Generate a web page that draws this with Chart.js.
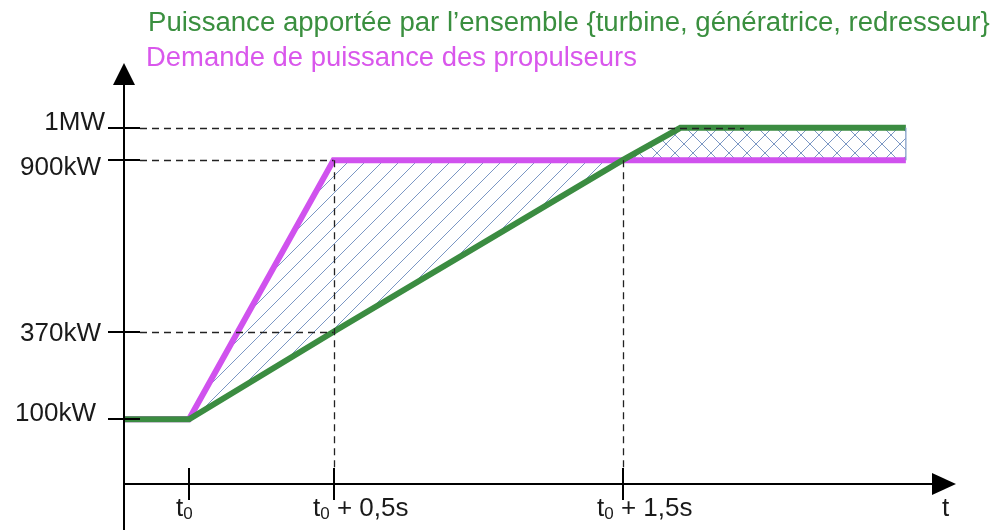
<!DOCTYPE html>
<html>
<head>
<meta charset="utf-8">
<script src="https://cdn.jsdelivr.net/npm/chart.js@4"></script>
<style>
  html, body { margin: 0; padding: 0; background: #fff; }
  #wrap { width: 997px; height: 530px; }
</style>
</head>
<body>
<div id="wrap"><canvas id="powerChart" width="997" height="530"></canvas></div>
<script>
// time in seconds relative to t0, power in kW
const timePoints = [-0.225, 0, 0.5, 1.5, 1.7, 2.48];
const supplyPower = [100, 100, 370, 900, 1000, 1000];   // turbine + generatrice + redresseur
const demandPower = [100, 100, 900, 900, 900, 900];     // propulseurs

const yTickValues = [100, 370, 900, 1000];
const yTickLabels = ["100kW", "370kW", "900kW", "1MW"];
const xTickValues = [0, 0.5, 1.5];
const xTickSuffix = ["", " + 0,5s", " + 1,5s"];

// dashed guides: [power, time end] and [time, power top]
const hGuides = [[1000, 1.92], [900, 0.5], [370, 0.5]];
const vGuides = [[0.5, 900], [1.5, 900]];

const titleSupply = "Puissance apportée par l\u2019ensemble {turbine, génératrice, redresseur}";
const titleDemand = "Demande de puissance des propulseurs";

const GREEN = "#3b8c41";
const MAGENTA = "#d052ee";
const HATCH = "#7b97c4";
const FONT = "'Liberation Sans', Arial, sans-serif";

function makePattern(size, cross) {
  const c = document.createElement("canvas");
  c.width = size; c.height = size;
  const g = c.getContext("2d");
  g.strokeStyle = HATCH;
  g.lineWidth = 1;
  g.beginPath();
  // "/" lines
  g.moveTo(-1, size + 1); g.lineTo(size + 1, -1);
  g.moveTo(-1, 1); g.lineTo(1, -1);
  g.moveTo(size - 1, size + 1); g.lineTo(size + 1, size - 1);
  if (cross) {
    // "\" lines
    g.moveTo(-1, -1); g.lineTo(size + 1, size + 1);
    g.moveTo(size - 1, -1); g.lineTo(size + 1, 1);
    g.moveTo(-1, size - 1); g.lineTo(1, size + 1);
  }
  g.stroke();
  return g.createPattern(c, "repeat");
}

const diagPattern = makePattern(17, false);
const crossPattern = makePattern(18, true);

const overlay = {
  id: "overlay",
  afterDatasetsDraw(chart) {
    const { ctx, scales: { x, y } } = chart;
    const x0 = x.getPixelForValue(x.min);
    const y0 = y.getPixelForValue(y.min);
    ctx.save();

    // closing edge of the crosshatched band
    const last = timePoints.length - 1;
    ctx.strokeStyle = HATCH;
    ctx.lineWidth = 1.2;
    ctx.beginPath();
    ctx.moveTo(x.getPixelForValue(timePoints[last]), y.getPixelForValue(supplyPower[last]));
    ctx.lineTo(x.getPixelForValue(timePoints[last]), y.getPixelForValue(demandPower[last]));
    ctx.stroke();

    // dashed guides
    ctx.strokeStyle = "#222";
    ctx.lineWidth = 1.3;
    ctx.setLineDash([7, 5]);
    hGuides.forEach(([p, t]) => {
      const py = Math.round(y.getPixelForValue(p)) + 0.5;
      ctx.beginPath();
      ctx.moveTo(x0 + 16, py);
      ctx.lineTo(x.getPixelForValue(t), py);
      ctx.stroke();
    });
    vGuides.forEach(([t, p]) => {
      const px = Math.round(x.getPixelForValue(t)) + 0.5;
      ctx.beginPath();
      ctx.moveTo(px, y.getPixelForValue(p));
      ctx.lineTo(px, y0 - 16);
      ctx.stroke();
    });
    ctx.setLineDash([]);

    // axes
    ctx.strokeStyle = "#000";
    ctx.fillStyle = "#000";
    ctx.lineWidth = 2;
    ctx.beginPath();
    ctx.moveTo(x0, 80);
    ctx.lineTo(x0, 530);
    ctx.moveTo(x0, y0);
    ctx.lineTo(935, y0);
    ctx.stroke();
    // arrow heads
    ctx.beginPath();
    ctx.moveTo(x0, 63); ctx.lineTo(x0 - 11, 85); ctx.lineTo(x0 + 11, 85); ctx.closePath();
    ctx.fill();
    ctx.beginPath();
    ctx.moveTo(956, y0); ctx.lineTo(932, y0 - 11); ctx.lineTo(932, y0 + 11); ctx.closePath();
    ctx.fill();

    // ticks
    ctx.lineWidth = 2;
    yTickValues.forEach(v => {
      const py = Math.round(y.getPixelForValue(v));
      ctx.beginPath();
      ctx.moveTo(x0 - 16, py); ctx.lineTo(x0 + 16, py);
      ctx.stroke();
    });
    xTickValues.forEach(v => {
      const px = Math.round(x.getPixelForValue(v));
      ctx.beginPath();
      ctx.moveTo(px, y0 - 16); ctx.lineTo(px, y0 + 16);
      ctx.stroke();
    });

    // y labels
    ctx.fillStyle = "#1a1a1a";
    ctx.font = "26px " + FONT;
    ctx.textAlign = "right";
    ctx.textBaseline = "alphabetic";
    const yLabelShift = { "1MW": [105, 2], "900kW": [101, 15], "370kW": [101, 9], "100kW": [96, 2] };
    yTickValues.forEach((v, i) => {
      const [rx, dy] = yLabelShift[yTickLabels[i]];
      ctx.fillText(yTickLabels[i], rx, y.getPixelForValue(v) + dy);
    });

    // x labels: t with subscript 0
    ctx.textAlign = "left";
    const xLabelStart = [176, 313, 597];
    xTickValues.forEach((v, i) => {
      let px = xLabelStart[i];
      const base = y0 + 32;
      ctx.font = "26px " + FONT;
      ctx.fillText("t", px, base);
      px += ctx.measureText("t").width;
      ctx.font = "17px " + FONT;
      ctx.fillText("0", px, base + 3);
      px += ctx.measureText("0").width;
      ctx.font = "26px " + FONT;
      ctx.fillText(xTickSuffix[i], px, base);
    });
    ctx.font = "26px " + FONT;
    ctx.fillText("t", 942, y0 + 32);

    // titles, sized to their span in the reference
    const fit = (text, left, right, base, color) => {
      ctx.font = "100px " + FONT;
      const size = 100 * (right - left) / ctx.measureText(text).width;
      ctx.font = size.toFixed(2) + "px " + FONT;
      ctx.fillStyle = color;
      ctx.fillText(text, left, base);
    };
    fit(titleSupply, 148, 990, 31, "#3a8f3f");
    fit(titleDemand, 146, 637, 66, "#d957ec");

    ctx.restore();
  }
};

new Chart(document.getElementById("powerChart"), {
  type: "line",
  data: {
    datasets: [
      {
        label: "Puissance apportée",
        data: timePoints.map((t, i) => ({ x: t, y: supplyPower[i] })),
        borderColor: GREEN,
        borderWidth: 6,
        pointRadius: 0,
        tension: 0,
        clip: false,
        fill: { target: 1, above: crossPattern, below: diagPattern }
      },
      {
        label: "Demande de puissance",
        data: timePoints.map((t, i) => ({ x: t, y: demandPower[i] })),
        borderColor: MAGENTA,
        borderWidth: 6,
        pointRadius: 0,
        tension: 0,
        clip: false,
        fill: false
      }
    ]
  },
  options: {
    responsive: false,
    animation: false,
    layout: { padding: { left: 124, right: 42, top: 63, bottom: 46 } },
    scales: {
      x: { type: "linear", min: -0.225, max: 2.65, display: false },
      y: { type: "linear", min: -100, max: 1200, display: false }
    },
    plugins: {
      legend: { display: false },
      tooltip: { enabled: false },
      filler: { drawTime: "beforeDatasetsDraw" }
    }
  },
  plugins: [overlay]
});
</script>
</body>
</html>
